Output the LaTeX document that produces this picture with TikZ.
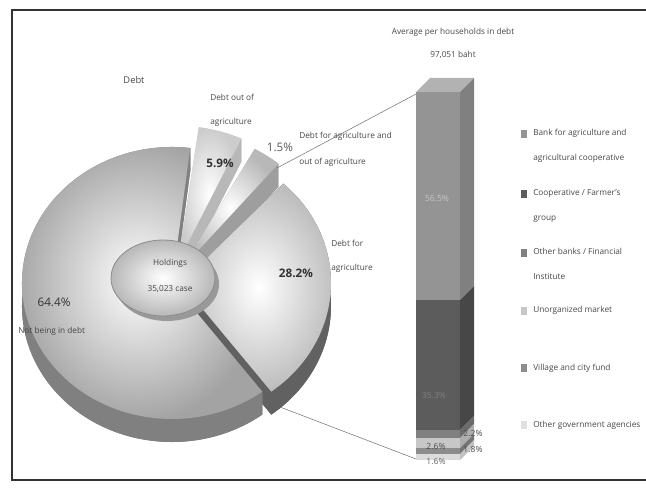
\documentclass[tikz,border=0pt]{standalone}
\usepackage{fontspec}
\setmainfont{Open Sans}
\usetikzlibrary{positioning}
\usetikzlibrary{shapes.geometric}

\tikzset{
  txt/.style={font=\fontsize{6.2}{7.5}\selectfont, text=black!72, inner sep=0pt},
  pct/.style={font=\fontsize{8.8}{10}\selectfont, text=black!80, inner sep=0pt},
  barpct/.style={font=\fontsize{6.4}{7.5}\selectfont, inner sep=0pt},
  keybox/.style={minimum width=5pt, minimum height=5.5pt, inner sep=0pt},
  holdbox/.style={ellipse, minimum width=78pt, minimum height=57pt, inner sep=0pt,
    inner color=white, outer color=black!28, draw=black!45, line width=0.6pt},
  linkline/.style={black!55, line width=0.4pt}
}

% one slice of the 3D pie: shift x, shift y, start angle, end angle, top colour, side colour
\newcommand{\pieslice}[6]{%
  \begin{scope}[shift={(\cx+#1,\cy+#2)}]
    \fill[#6] (0,\dep) -- ++({\rx*cos(#3)},{-\ry*sin(#3)})
      arc[start angle={-(#3)}, end angle={-(#4)}, x radius=\rx, y radius=\ry] -- cycle;
    \fill[#6] ({\rx*cos(#3)},{-\ry*sin(#3)})
      arc[start angle={-(#3)}, end angle={-(#4)}, x radius=\rx, y radius=\ry] -- ++(0,\dep)
      arc[start angle={-(#4)}, end angle={-(#3)}, x radius=\rx, y radius=\ry] -- cycle;
    \fill[#6] (0,0) -- ({\rx*cos(#3)},{-\ry*sin(#3)}) -- ++(0,\dep) -- (0,\dep) -- cycle;
    \fill[#6] (0,0) -- ({\rx*cos(#4)},{-\ry*sin(#4)}) -- ++(0,\dep) -- (0,\dep) -- cycle;
    \shade[inner color=white, outer color=#5] (0,0) -- ({\rx*cos(#3)},{-\ry*sin(#3)})
      arc[start angle={-(#3)}, end angle={-(#4)}, x radius=\rx, y radius=\ry] -- cycle;
  \end{scope}}

\begin{document}
\begin{tikzpicture}[x=0.75pt, y=-0.75pt]

  \useasboundingbox (0,0) rectangle (646,488);

  \def\cx{172}
  \def\cy{283}
  \def\rx{150}
  \def\ry{136}
  \def\dep{23}

  % frame
  \draw[line width=1.6pt, black!80] (646,10) -- (12,10) -- (12,480) -- (646,480);

  % pie, back slices first
  \pieslice{6}{-21}{65}{82}{black!20}{black!28}
  \pieslice{10}{-15}{50}{61}{black!28}{black!38}
  \pieslice{9}{0}{-53}{47}{black!26}{black!62}
  \pieslice{0}{0}{83}{307}{black!36}{black!50}

  \fill[black!40] (167,284) ellipse[x radius=52, y radius=37];
  \node[holdbox] (hold) at (163,278) {};
  \node[txt] (holdname) at (170,263) {Holdings};
  \node[txt] (holdnum) at (170,289) {35,023 case};

  % pie labels
  \node[txt, font=\fontsize{7}{8}\selectfont] (debt) at (134,80) {Debt};
  \node[txt, anchor=base west] (outa) at (210,101) {Debt out of};
  \node[txt, anchor=base west] (outb) at (210,125) {agriculture};
  \node[pct, font=\bfseries\fontsize{8.8}{10}\selectfont] (p59) at (220,163) {5.9\%};
  \node[pct, text=black!65] (p15) at (280,147) {1.5\%};
  \node[txt, anchor=base west] (botha) at (299,139) {Debt for agriculture and};
  \node[txt, anchor=base west] (bothb) at (299,165) {out of agriculture};
  \node[pct, font=\bfseries\fontsize{8.8}{10}\selectfont] (p282) at (296,273) {28.2\%};
  \node[txt, anchor=base west] (agra) at (331,247) {Debt for};
  \node[txt, anchor=base west] (agrb) at (331,271) {agriculture};
  \node[pct] (p644) at (54,302) {64.4\%};
  \node[txt, anchor=base west] (nodebt) at (18,334) {Not being in debt};

  % bar of the debt for agriculture
  \def\bl{416}
  \def\br{460}
  \def\bd{14}
  \fill[black!30] (\bl,92) -- (\bl+\bd,92-\bd) -- (\br+\bd,92-\bd) -- (\br,92) -- cycle;
  \foreach \ya/\yb/\cf/\cs in {92/300/black!42/black!50, 300/430/black!64/black!72,
      430/438/black!50/black!58, 438/448/black!22/black!32,
      448/454/black!45/black!54, 454/460/black!14/black!24}{
    \fill[\cf] (\bl,\ya) rectangle (\br,\yb);
    \fill[\cs] (\br,\ya) -- (\br+\bd,\ya-\bd) -- (\br+\bd,\yb-\bd) -- (\br,\yb) -- cycle;
  }

  \node[txt] (title) at (453,32) {Average per households in debt};
  \node[txt] (avg) at (453,55) {97,051 baht};

  \node[barpct, text=black!22] (p565) at (437,198) {56.5\%};
  \node[barpct, text=black!50] (p353) at (434,395) {35.3\%};
  \node[barpct, text=black!70] (p22) at (473,433) {2.2\%};
  \node[barpct, text=black!70] (p26) at (436,446) {2.6\%};
  \node[barpct, text=black!70] (p18) at (473,449) {1.8\%};
  \node[barpct, text=black!60] (p16) at (436,461) {1.6\%};

  % connectors from the slice to the bar
  \coordinate (agtop) at (277,168);
  \coordinate (agbot) at (280,407);
  \coordinate (bartop) at (416,94);
  \coordinate (barbot) at (416,459);
  \draw[linkline] (agtop) -- (bartop);
  \draw[linkline] (agbot) -- (barbot);

  % legend
  \node[keybox, fill=black!42] (key1) at (524,134) {};
  \node[keybox, fill=black!64] (key2) at (524,194) {};
  \node[keybox, fill=black!50] (key3) at (524,253) {};
  \node[keybox, fill=black!22] (key4) at (524,311) {};
  \node[keybox, fill=black!45] (key5) at (524,368) {};
  \node[keybox, fill=black!12] (key6) at (524,425) {};

  \node[txt, anchor=base west] (leg1) at (533,136) {Bank for agriculture and};
  \node[txt, anchor=base west] (leg1b) at (533,161) {agricultural cooperative};
  \node[txt, anchor=base west] (leg2) at (533,196) {Cooperative / Farmer's};
  \node[txt, anchor=base west] (leg2b) at (533,221) {group};
  \node[txt, anchor=base west] (leg3) at (533,255) {Other banks / Financial};
  \node[txt, anchor=base west] (leg3b) at (533,280) {Institute};
  \node[txt, anchor=base west] (leg4) at (533,313) {Unorganized market};
  \node[txt, anchor=base west] (leg5) at (533,370) {Village and city fund};
  \node[txt, anchor=base west] (leg6) at (533,427) {Other government agencies};

\end{tikzpicture}
\end{document}
